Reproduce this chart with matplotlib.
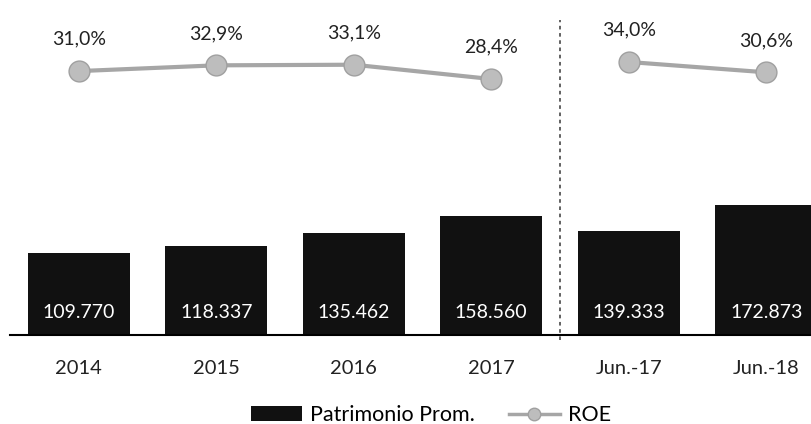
import numpy as np
import matplotlib.pyplot as plt
from matplotlib.lines import Line2D
from matplotlib.patches import Patch

plt.rcParams['font.family'] = ['Lato', 'DejaVu Sans']

categories = ["2014", "2015", "2016", "2017", "Jun.-17", "Jun.-18"]
patrimonio = [109770, 118337, 135462, 158560, 139333, 172873]
patrimonio_labels = ["109.770", "118.337", "135.462", "158.560", "139.333", "172.873"]
roe = [31.0, 32.9, 33.1, 28.4, 34.0, 30.6]
roe_labels = ["31,0%", "32,9%", "33,1%", "28,4%", "34,0%", "30,6%"]

W, H = 811, 424
fig = plt.figure(figsize=(W / 100, H / 100), dpi=100)
ax = fig.add_axes([10 / W, 89 / H, 825 / W, 325 / H])
x = np.arange(len(categories))

ax.bar(x, patrimonio, width=0.74, color="#111111", zorder=2)
ax.set_ylim(0, 325 / 0.00075)
ax.set_xlim(-0.5, len(categories) - 0.5)
for i, lab in enumerate(patrimonio_labels):
    ax.annotate(lab, xy=(x[i], 0), xytext=(0, 16.5), textcoords="offset points",
                ha="center", va="center", color="white", fontsize=14)

for s in ["top", "left", "right"]:
    ax.spines[s].set_visible(False)
ax.spines["bottom"].set_linewidth(1.5)
ax.set_yticks([])
ax.set_xticks(x)
ax.set_xticklabels(categories, fontsize=14.5, color="#222222")
ax.tick_params(axis="x", length=0, pad=18)

# separator between annual and half-year figures
ax.axvline(3.5, ymin=-0.015, ymax=0.969, color="#555555", linestyle=(0, (2, 2)),
           linewidth=1.3, clip_on=False, zorder=3)

ax2 = ax.twinx()
ax2.set_ylim(-55.8, 51.1)
ax2.axis("off")
style = dict(color="#a6a6a6", linewidth=3, marker="o", markersize=15,
             markerfacecolor="#bdbdbd", markeredgecolor="#a0a0a0", markeredgewidth=1)
ax2.plot(x[:4], roe[:4], **style)
ax2.plot(x[4:], roe[4:], **style)
for i, lab in enumerate(roe_labels):
    ax2.annotate(lab, xy=(x[i], roe[i]), xytext=(0, 23), textcoords="offset points",
                 ha="center", va="center", fontsize=14, color="#222222")

handles = [Patch(facecolor="#111111"),
           Line2D([], [], color="#a6a6a6", linewidth=2.5, marker="o", markersize=9,
                  markerfacecolor="#bdbdbd", markeredgecolor="#a0a0a0")]
fig.legend(handles, ["Patrimonio Prom.", "ROE"], loc="center", bbox_to_anchor=(431 / W, 9 / H),
           ncol=2, frameon=False, fontsize=15.5, handlelength=2.4, handleheight=0.65,
           columnspacing=1.55, handletextpad=0.37, borderpad=0, borderaxespad=0)

fig.savefig("out.png", dpi=100)
